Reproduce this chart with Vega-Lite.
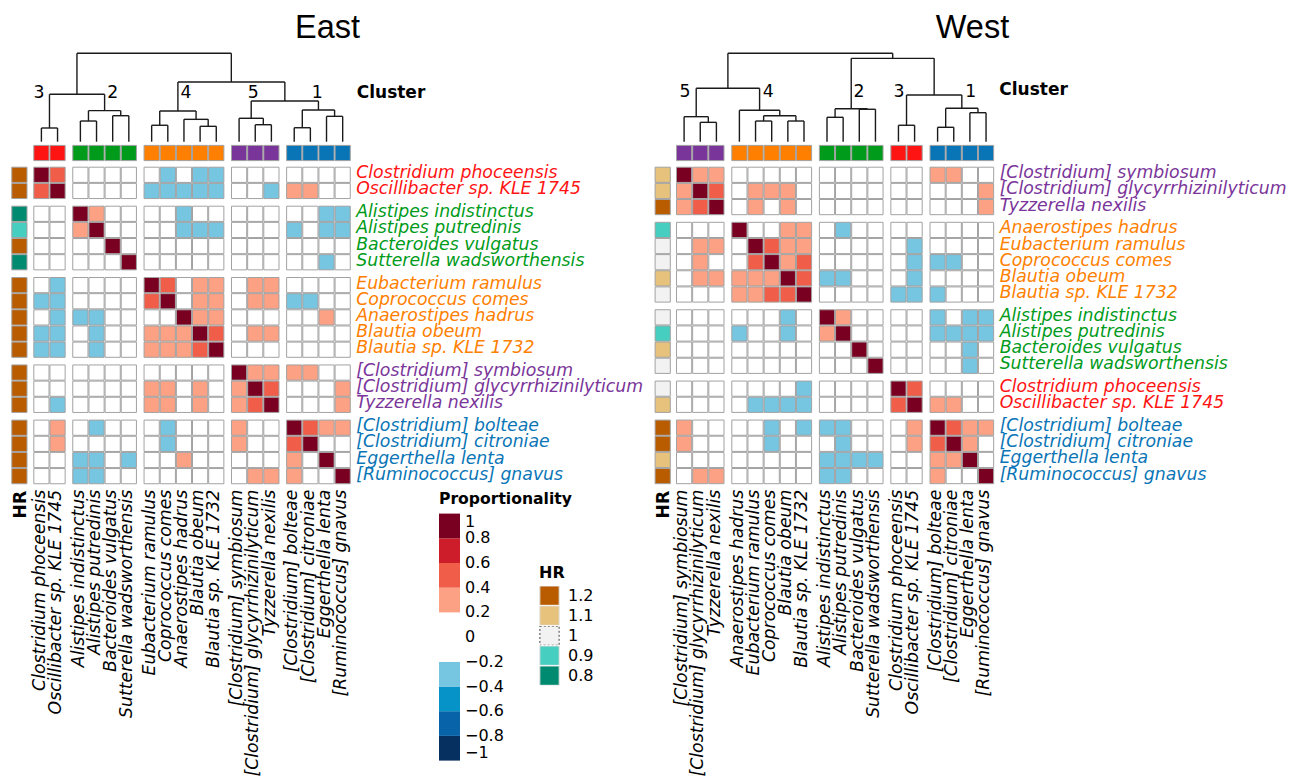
{
"$schema":"https://vega.github.io/schema/vega-lite/v6.json",
"width":1292,"height":779,"padding":0,"autosize":{"type":"none"},"background":"white",
"config":{"view":{"stroke":null},"font":"DejaVu Sans","legend":{"labelFont":"DejaVu Sans","titleFont":"DejaVu Sans"}},
"datasets":{
"sp":[
{"p":"E","i":0,"name":"Clostridium phoceensis","cl":3,"hr":1.2},
{"p":"E","i":1,"name":"Oscillibacter sp. KLE 1745","cl":3,"hr":1.2},
{"p":"E","i":2,"name":"Alistipes indistinctus","cl":2,"hr":0.8},
{"p":"E","i":3,"name":"Alistipes putredinis","cl":2,"hr":0.9},
{"p":"E","i":4,"name":"Bacteroides vulgatus","cl":2,"hr":1.2},
{"p":"E","i":5,"name":"Sutterella wadsworthensis","cl":2,"hr":0.8},
{"p":"E","i":6,"name":"Eubacterium ramulus","cl":4,"hr":1.2},
{"p":"E","i":7,"name":"Coprococcus comes","cl":4,"hr":1.2},
{"p":"E","i":8,"name":"Anaerostipes hadrus","cl":4,"hr":1.2},
{"p":"E","i":9,"name":"Blautia obeum","cl":4,"hr":1.2},
{"p":"E","i":10,"name":"Blautia sp. KLE 1732","cl":4,"hr":1.2},
{"p":"E","i":11,"name":"[Clostridium] symbiosum","cl":5,"hr":1.2},
{"p":"E","i":12,"name":"[Clostridium] glycyrrhizinilyticum","cl":5,"hr":1.2},
{"p":"E","i":13,"name":"Tyzzerella nexilis","cl":5,"hr":1.2},
{"p":"E","i":14,"name":"[Clostridium] bolteae","cl":1,"hr":1.2},
{"p":"E","i":15,"name":"[Clostridium] citroniae","cl":1,"hr":1.2},
{"p":"E","i":16,"name":"Eggerthella lenta","cl":1,"hr":1.2},
{"p":"E","i":17,"name":"[Ruminococcus] gnavus","cl":1,"hr":1.2},
{"p":"W","i":0,"name":"[Clostridium] symbiosum","cl":5,"hr":1.1},
{"p":"W","i":1,"name":"[Clostridium] glycyrrhizinilyticum","cl":5,"hr":1.1},
{"p":"W","i":2,"name":"Tyzzerella nexilis","cl":5,"hr":1.2},
{"p":"W","i":3,"name":"Anaerostipes hadrus","cl":4,"hr":0.9},
{"p":"W","i":4,"name":"Eubacterium ramulus","cl":4,"hr":1},
{"p":"W","i":5,"name":"Coprococcus comes","cl":4,"hr":1},
{"p":"W","i":6,"name":"Blautia obeum","cl":4,"hr":1.1},
{"p":"W","i":7,"name":"Blautia sp. KLE 1732","cl":4,"hr":1},
{"p":"W","i":8,"name":"Alistipes indistinctus","cl":2,"hr":1},
{"p":"W","i":9,"name":"Alistipes putredinis","cl":2,"hr":0.9},
{"p":"W","i":10,"name":"Bacteroides vulgatus","cl":2,"hr":1.1},
{"p":"W","i":11,"name":"Sutterella wadsworthensis","cl":2,"hr":1},
{"p":"W","i":12,"name":"Clostridium phoceensis","cl":3,"hr":1},
{"p":"W","i":13,"name":"Oscillibacter sp. KLE 1745","cl":3,"hr":1.1},
{"p":"W","i":14,"name":"[Clostridium] bolteae","cl":1,"hr":1.2},
{"p":"W","i":15,"name":"[Clostridium] citroniae","cl":1,"hr":1.2},
{"p":"W","i":16,"name":"Eggerthella lenta","cl":1,"hr":1.1},
{"p":"W","i":17,"name":"[Ruminococcus] gnavus","cl":1,"hr":1.2}
],
"cells":[
{"p":"E","r":0,"c":0,"v":1},{"p":"E","r":0,"c":1,"v":0.5},{"p":"E","r":0,"c":2,"v":0},{"p":"E","r":0,"c":3,"v":0},{"p":"E","r":0,"c":4,"v":0},{"p":"E","r":0,"c":5,"v":0},{"p":"E","r":0,"c":6,"v":0},{"p":"E","r":0,"c":7,"v":-0.3},{"p":"E","r":0,"c":8,"v":0},{"p":"E","r":0,"c":9,"v":-0.3},{"p":"E","r":0,"c":10,"v":-0.3},{"p":"E","r":0,"c":11,"v":0},{"p":"E","r":0,"c":12,"v":0},{"p":"E","r":0,"c":13,"v":0},{"p":"E","r":0,"c":14,"v":0},{"p":"E","r":0,"c":15,"v":0},{"p":"E","r":0,"c":16,"v":0},{"p":"E","r":0,"c":17,"v":0},
{"p":"E","r":1,"c":0,"v":0.5},{"p":"E","r":1,"c":1,"v":1},{"p":"E","r":1,"c":2,"v":0},{"p":"E","r":1,"c":3,"v":0},{"p":"E","r":1,"c":4,"v":0},{"p":"E","r":1,"c":5,"v":0},{"p":"E","r":1,"c":6,"v":-0.3},{"p":"E","r":1,"c":7,"v":-0.3},{"p":"E","r":1,"c":8,"v":-0.3},{"p":"E","r":1,"c":9,"v":-0.3},{"p":"E","r":1,"c":10,"v":-0.3},{"p":"E","r":1,"c":11,"v":0},{"p":"E","r":1,"c":12,"v":0},{"p":"E","r":1,"c":13,"v":-0.3},{"p":"E","r":1,"c":14,"v":0.3},{"p":"E","r":1,"c":15,"v":0.3},{"p":"E","r":1,"c":16,"v":0},{"p":"E","r":1,"c":17,"v":0},
{"p":"E","r":2,"c":0,"v":0},{"p":"E","r":2,"c":1,"v":0},{"p":"E","r":2,"c":2,"v":1},{"p":"E","r":2,"c":3,"v":0.3},{"p":"E","r":2,"c":4,"v":0},{"p":"E","r":2,"c":5,"v":0},{"p":"E","r":2,"c":6,"v":0},{"p":"E","r":2,"c":7,"v":0},{"p":"E","r":2,"c":8,"v":-0.3},{"p":"E","r":2,"c":9,"v":0},{"p":"E","r":2,"c":10,"v":0},{"p":"E","r":2,"c":11,"v":0},{"p":"E","r":2,"c":12,"v":0},{"p":"E","r":2,"c":13,"v":0},{"p":"E","r":2,"c":14,"v":0},{"p":"E","r":2,"c":15,"v":0},{"p":"E","r":2,"c":16,"v":-0.3},{"p":"E","r":2,"c":17,"v":-0.3},
{"p":"E","r":3,"c":0,"v":0},{"p":"E","r":3,"c":1,"v":0},{"p":"E","r":3,"c":2,"v":0.3},{"p":"E","r":3,"c":3,"v":1},{"p":"E","r":3,"c":4,"v":0},{"p":"E","r":3,"c":5,"v":0},{"p":"E","r":3,"c":6,"v":0},{"p":"E","r":3,"c":7,"v":0},{"p":"E","r":3,"c":8,"v":-0.3},{"p":"E","r":3,"c":9,"v":-0.3},{"p":"E","r":3,"c":10,"v":-0.3},{"p":"E","r":3,"c":11,"v":0},{"p":"E","r":3,"c":12,"v":0},{"p":"E","r":3,"c":13,"v":0},{"p":"E","r":3,"c":14,"v":-0.3},{"p":"E","r":3,"c":15,"v":0},{"p":"E","r":3,"c":16,"v":-0.3},{"p":"E","r":3,"c":17,"v":-0.3},
{"p":"E","r":4,"c":0,"v":0},{"p":"E","r":4,"c":1,"v":0},{"p":"E","r":4,"c":2,"v":0},{"p":"E","r":4,"c":3,"v":0},{"p":"E","r":4,"c":4,"v":1},{"p":"E","r":4,"c":5,"v":0},{"p":"E","r":4,"c":6,"v":0},{"p":"E","r":4,"c":7,"v":0},{"p":"E","r":4,"c":8,"v":0},{"p":"E","r":4,"c":9,"v":0},{"p":"E","r":4,"c":10,"v":0},{"p":"E","r":4,"c":11,"v":0},{"p":"E","r":4,"c":12,"v":0},{"p":"E","r":4,"c":13,"v":0},{"p":"E","r":4,"c":14,"v":0},{"p":"E","r":4,"c":15,"v":0},{"p":"E","r":4,"c":16,"v":0},{"p":"E","r":4,"c":17,"v":0},
{"p":"E","r":5,"c":0,"v":0},{"p":"E","r":5,"c":1,"v":0},{"p":"E","r":5,"c":2,"v":0},{"p":"E","r":5,"c":3,"v":0},{"p":"E","r":5,"c":4,"v":0},{"p":"E","r":5,"c":5,"v":1},{"p":"E","r":5,"c":6,"v":0},{"p":"E","r":5,"c":7,"v":0},{"p":"E","r":5,"c":8,"v":0},{"p":"E","r":5,"c":9,"v":0},{"p":"E","r":5,"c":10,"v":0},{"p":"E","r":5,"c":11,"v":0},{"p":"E","r":5,"c":12,"v":0},{"p":"E","r":5,"c":13,"v":0},{"p":"E","r":5,"c":14,"v":0},{"p":"E","r":5,"c":15,"v":0},{"p":"E","r":5,"c":16,"v":-0.3},{"p":"E","r":5,"c":17,"v":0},
{"p":"E","r":6,"c":0,"v":0},{"p":"E","r":6,"c":1,"v":-0.3},{"p":"E","r":6,"c":2,"v":0},{"p":"E","r":6,"c":3,"v":0},{"p":"E","r":6,"c":4,"v":0},{"p":"E","r":6,"c":5,"v":0},{"p":"E","r":6,"c":6,"v":1},{"p":"E","r":6,"c":7,"v":0.5},{"p":"E","r":6,"c":8,"v":0},{"p":"E","r":6,"c":9,"v":0.3},{"p":"E","r":6,"c":10,"v":0.3},{"p":"E","r":6,"c":11,"v":0},{"p":"E","r":6,"c":12,"v":0.3},{"p":"E","r":6,"c":13,"v":0.3},{"p":"E","r":6,"c":14,"v":0},{"p":"E","r":6,"c":15,"v":0},{"p":"E","r":6,"c":16,"v":0},{"p":"E","r":6,"c":17,"v":0},
{"p":"E","r":7,"c":0,"v":-0.3},{"p":"E","r":7,"c":1,"v":-0.3},{"p":"E","r":7,"c":2,"v":0},{"p":"E","r":7,"c":3,"v":0},{"p":"E","r":7,"c":4,"v":0},{"p":"E","r":7,"c":5,"v":0},{"p":"E","r":7,"c":6,"v":0.5},{"p":"E","r":7,"c":7,"v":1},{"p":"E","r":7,"c":8,"v":0},{"p":"E","r":7,"c":9,"v":0.3},{"p":"E","r":7,"c":10,"v":0.3},{"p":"E","r":7,"c":11,"v":0},{"p":"E","r":7,"c":12,"v":0.3},{"p":"E","r":7,"c":13,"v":0.3},{"p":"E","r":7,"c":14,"v":-0.3},{"p":"E","r":7,"c":15,"v":-0.3},{"p":"E","r":7,"c":16,"v":0},{"p":"E","r":7,"c":17,"v":0},
{"p":"E","r":8,"c":0,"v":0},{"p":"E","r":8,"c":1,"v":-0.3},{"p":"E","r":8,"c":2,"v":-0.3},{"p":"E","r":8,"c":3,"v":-0.3},{"p":"E","r":8,"c":4,"v":0},{"p":"E","r":8,"c":5,"v":0},{"p":"E","r":8,"c":6,"v":0},{"p":"E","r":8,"c":7,"v":0},{"p":"E","r":8,"c":8,"v":1},{"p":"E","r":8,"c":9,"v":0.3},{"p":"E","r":8,"c":10,"v":0.3},{"p":"E","r":8,"c":11,"v":0},{"p":"E","r":8,"c":12,"v":0},{"p":"E","r":8,"c":13,"v":0},{"p":"E","r":8,"c":14,"v":0},{"p":"E","r":8,"c":15,"v":0},{"p":"E","r":8,"c":16,"v":0.3},{"p":"E","r":8,"c":17,"v":0},
{"p":"E","r":9,"c":0,"v":-0.3},{"p":"E","r":9,"c":1,"v":-0.3},{"p":"E","r":9,"c":2,"v":0},{"p":"E","r":9,"c":3,"v":-0.3},{"p":"E","r":9,"c":4,"v":0},{"p":"E","r":9,"c":5,"v":0},{"p":"E","r":9,"c":6,"v":0.3},{"p":"E","r":9,"c":7,"v":0.3},{"p":"E","r":9,"c":8,"v":0.3},{"p":"E","r":9,"c":9,"v":1},{"p":"E","r":9,"c":10,"v":0.5},{"p":"E","r":9,"c":11,"v":0},{"p":"E","r":9,"c":12,"v":0.3},{"p":"E","r":9,"c":13,"v":0.3},{"p":"E","r":9,"c":14,"v":0},{"p":"E","r":9,"c":15,"v":0},{"p":"E","r":9,"c":16,"v":0},{"p":"E","r":9,"c":17,"v":0},
{"p":"E","r":10,"c":0,"v":-0.3},{"p":"E","r":10,"c":1,"v":-0.3},{"p":"E","r":10,"c":2,"v":0},{"p":"E","r":10,"c":3,"v":-0.3},{"p":"E","r":10,"c":4,"v":0},{"p":"E","r":10,"c":5,"v":0},{"p":"E","r":10,"c":6,"v":0.3},{"p":"E","r":10,"c":7,"v":0.3},{"p":"E","r":10,"c":8,"v":0.3},{"p":"E","r":10,"c":9,"v":0.5},{"p":"E","r":10,"c":10,"v":1},{"p":"E","r":10,"c":11,"v":0},{"p":"E","r":10,"c":12,"v":0},{"p":"E","r":10,"c":13,"v":0},{"p":"E","r":10,"c":14,"v":0},{"p":"E","r":10,"c":15,"v":0},{"p":"E","r":10,"c":16,"v":0},{"p":"E","r":10,"c":17,"v":0},
{"p":"E","r":11,"c":0,"v":0},{"p":"E","r":11,"c":1,"v":0},{"p":"E","r":11,"c":2,"v":0},{"p":"E","r":11,"c":3,"v":0},{"p":"E","r":11,"c":4,"v":0},{"p":"E","r":11,"c":5,"v":0},{"p":"E","r":11,"c":6,"v":0},{"p":"E","r":11,"c":7,"v":0},{"p":"E","r":11,"c":8,"v":0},{"p":"E","r":11,"c":9,"v":0},{"p":"E","r":11,"c":10,"v":0},{"p":"E","r":11,"c":11,"v":1},{"p":"E","r":11,"c":12,"v":0.3},{"p":"E","r":11,"c":13,"v":0.3},{"p":"E","r":11,"c":14,"v":0.3},{"p":"E","r":11,"c":15,"v":0.3},{"p":"E","r":11,"c":16,"v":0},{"p":"E","r":11,"c":17,"v":0},
{"p":"E","r":12,"c":0,"v":0},{"p":"E","r":12,"c":1,"v":0},{"p":"E","r":12,"c":2,"v":0},{"p":"E","r":12,"c":3,"v":0},{"p":"E","r":12,"c":4,"v":0},{"p":"E","r":12,"c":5,"v":0},{"p":"E","r":12,"c":6,"v":0.3},{"p":"E","r":12,"c":7,"v":0.3},{"p":"E","r":12,"c":8,"v":0},{"p":"E","r":12,"c":9,"v":0.3},{"p":"E","r":12,"c":10,"v":0},{"p":"E","r":12,"c":11,"v":0.3},{"p":"E","r":12,"c":12,"v":1},{"p":"E","r":12,"c":13,"v":0.5},{"p":"E","r":12,"c":14,"v":0},{"p":"E","r":12,"c":15,"v":0},{"p":"E","r":12,"c":16,"v":0},{"p":"E","r":12,"c":17,"v":0.3},
{"p":"E","r":13,"c":0,"v":0},{"p":"E","r":13,"c":1,"v":-0.3},{"p":"E","r":13,"c":2,"v":0},{"p":"E","r":13,"c":3,"v":0},{"p":"E","r":13,"c":4,"v":0},{"p":"E","r":13,"c":5,"v":0},{"p":"E","r":13,"c":6,"v":0.3},{"p":"E","r":13,"c":7,"v":0.3},{"p":"E","r":13,"c":8,"v":0},{"p":"E","r":13,"c":9,"v":0.3},{"p":"E","r":13,"c":10,"v":0},{"p":"E","r":13,"c":11,"v":0.3},{"p":"E","r":13,"c":12,"v":0.5},{"p":"E","r":13,"c":13,"v":1},{"p":"E","r":13,"c":14,"v":0},{"p":"E","r":13,"c":15,"v":0},{"p":"E","r":13,"c":16,"v":0},{"p":"E","r":13,"c":17,"v":0.3},
{"p":"E","r":14,"c":0,"v":0},{"p":"E","r":14,"c":1,"v":0.3},{"p":"E","r":14,"c":2,"v":0},{"p":"E","r":14,"c":3,"v":-0.3},{"p":"E","r":14,"c":4,"v":0},{"p":"E","r":14,"c":5,"v":0},{"p":"E","r":14,"c":6,"v":0},{"p":"E","r":14,"c":7,"v":-0.3},{"p":"E","r":14,"c":8,"v":0},{"p":"E","r":14,"c":9,"v":0},{"p":"E","r":14,"c":10,"v":0},{"p":"E","r":14,"c":11,"v":0.3},{"p":"E","r":14,"c":12,"v":0},{"p":"E","r":14,"c":13,"v":0},{"p":"E","r":14,"c":14,"v":1},{"p":"E","r":14,"c":15,"v":0.5},{"p":"E","r":14,"c":16,"v":0.3},{"p":"E","r":14,"c":17,"v":0.3},
{"p":"E","r":15,"c":0,"v":0},{"p":"E","r":15,"c":1,"v":0.3},{"p":"E","r":15,"c":2,"v":0},{"p":"E","r":15,"c":3,"v":0},{"p":"E","r":15,"c":4,"v":0},{"p":"E","r":15,"c":5,"v":0},{"p":"E","r":15,"c":6,"v":0},{"p":"E","r":15,"c":7,"v":-0.3},{"p":"E","r":15,"c":8,"v":0},{"p":"E","r":15,"c":9,"v":0},{"p":"E","r":15,"c":10,"v":0},{"p":"E","r":15,"c":11,"v":0.3},{"p":"E","r":15,"c":12,"v":0},{"p":"E","r":15,"c":13,"v":0},{"p":"E","r":15,"c":14,"v":0.5},{"p":"E","r":15,"c":15,"v":1},{"p":"E","r":15,"c":16,"v":0},{"p":"E","r":15,"c":17,"v":0},
{"p":"E","r":16,"c":0,"v":0},{"p":"E","r":16,"c":1,"v":0},{"p":"E","r":16,"c":2,"v":-0.3},{"p":"E","r":16,"c":3,"v":-0.3},{"p":"E","r":16,"c":4,"v":0},{"p":"E","r":16,"c":5,"v":-0.3},{"p":"E","r":16,"c":6,"v":0},{"p":"E","r":16,"c":7,"v":0},{"p":"E","r":16,"c":8,"v":0.3},{"p":"E","r":16,"c":9,"v":0},{"p":"E","r":16,"c":10,"v":0},{"p":"E","r":16,"c":11,"v":0},{"p":"E","r":16,"c":12,"v":0},{"p":"E","r":16,"c":13,"v":0},{"p":"E","r":16,"c":14,"v":0.3},{"p":"E","r":16,"c":15,"v":0},{"p":"E","r":16,"c":16,"v":1},{"p":"E","r":16,"c":17,"v":0},
{"p":"E","r":17,"c":0,"v":0},{"p":"E","r":17,"c":1,"v":0},{"p":"E","r":17,"c":2,"v":-0.3},{"p":"E","r":17,"c":3,"v":-0.3},{"p":"E","r":17,"c":4,"v":0},{"p":"E","r":17,"c":5,"v":0},{"p":"E","r":17,"c":6,"v":0},{"p":"E","r":17,"c":7,"v":0},{"p":"E","r":17,"c":8,"v":0},{"p":"E","r":17,"c":9,"v":0},{"p":"E","r":17,"c":10,"v":0},{"p":"E","r":17,"c":11,"v":0},{"p":"E","r":17,"c":12,"v":0.3},{"p":"E","r":17,"c":13,"v":0.3},{"p":"E","r":17,"c":14,"v":0.3},{"p":"E","r":17,"c":15,"v":0},{"p":"E","r":17,"c":16,"v":0},{"p":"E","r":17,"c":17,"v":1},
{"p":"W","r":0,"c":0,"v":1},{"p":"W","r":0,"c":1,"v":0.3},{"p":"W","r":0,"c":2,"v":0.3},{"p":"W","r":0,"c":3,"v":0},{"p":"W","r":0,"c":4,"v":0},{"p":"W","r":0,"c":5,"v":0},{"p":"W","r":0,"c":6,"v":0},{"p":"W","r":0,"c":7,"v":0},{"p":"W","r":0,"c":8,"v":0},{"p":"W","r":0,"c":9,"v":0},{"p":"W","r":0,"c":10,"v":0},{"p":"W","r":0,"c":11,"v":0},{"p":"W","r":0,"c":12,"v":0},{"p":"W","r":0,"c":13,"v":0},{"p":"W","r":0,"c":14,"v":0.3},{"p":"W","r":0,"c":15,"v":0.3},{"p":"W","r":0,"c":16,"v":0},{"p":"W","r":0,"c":17,"v":0},
{"p":"W","r":1,"c":0,"v":0.3},{"p":"W","r":1,"c":1,"v":1},{"p":"W","r":1,"c":2,"v":0.5},{"p":"W","r":1,"c":3,"v":0},{"p":"W","r":1,"c":4,"v":0.3},{"p":"W","r":1,"c":5,"v":0.3},{"p":"W","r":1,"c":6,"v":0.3},{"p":"W","r":1,"c":7,"v":0},{"p":"W","r":1,"c":8,"v":0},{"p":"W","r":1,"c":9,"v":0},{"p":"W","r":1,"c":10,"v":0},{"p":"W","r":1,"c":11,"v":0},{"p":"W","r":1,"c":12,"v":0},{"p":"W","r":1,"c":13,"v":0},{"p":"W","r":1,"c":14,"v":0},{"p":"W","r":1,"c":15,"v":0},{"p":"W","r":1,"c":16,"v":0},{"p":"W","r":1,"c":17,"v":0.3},
{"p":"W","r":2,"c":0,"v":0.3},{"p":"W","r":2,"c":1,"v":0.5},{"p":"W","r":2,"c":2,"v":1},{"p":"W","r":2,"c":3,"v":0},{"p":"W","r":2,"c":4,"v":0.3},{"p":"W","r":2,"c":5,"v":0},{"p":"W","r":2,"c":6,"v":0.3},{"p":"W","r":2,"c":7,"v":0},{"p":"W","r":2,"c":8,"v":0},{"p":"W","r":2,"c":9,"v":0},{"p":"W","r":2,"c":10,"v":0},{"p":"W","r":2,"c":11,"v":0},{"p":"W","r":2,"c":12,"v":0},{"p":"W","r":2,"c":13,"v":0},{"p":"W","r":2,"c":14,"v":0},{"p":"W","r":2,"c":15,"v":0},{"p":"W","r":2,"c":16,"v":0},{"p":"W","r":2,"c":17,"v":0.3},
{"p":"W","r":3,"c":0,"v":0},{"p":"W","r":3,"c":1,"v":0},{"p":"W","r":3,"c":2,"v":0},{"p":"W","r":3,"c":3,"v":1},{"p":"W","r":3,"c":4,"v":0},{"p":"W","r":3,"c":5,"v":0},{"p":"W","r":3,"c":6,"v":0.3},{"p":"W","r":3,"c":7,"v":0.3},{"p":"W","r":3,"c":8,"v":0},{"p":"W","r":3,"c":9,"v":-0.3},{"p":"W","r":3,"c":10,"v":0},{"p":"W","r":3,"c":11,"v":0},{"p":"W","r":3,"c":12,"v":0},{"p":"W","r":3,"c":13,"v":0},{"p":"W","r":3,"c":14,"v":0},{"p":"W","r":3,"c":15,"v":0},{"p":"W","r":3,"c":16,"v":0},{"p":"W","r":3,"c":17,"v":0},
{"p":"W","r":4,"c":0,"v":0},{"p":"W","r":4,"c":1,"v":0.3},{"p":"W","r":4,"c":2,"v":0.3},{"p":"W","r":4,"c":3,"v":0},{"p":"W","r":4,"c":4,"v":1},{"p":"W","r":4,"c":5,"v":0.5},{"p":"W","r":4,"c":6,"v":0.3},{"p":"W","r":4,"c":7,"v":0.3},{"p":"W","r":4,"c":8,"v":0},{"p":"W","r":4,"c":9,"v":0},{"p":"W","r":4,"c":10,"v":0},{"p":"W","r":4,"c":11,"v":0},{"p":"W","r":4,"c":12,"v":0},{"p":"W","r":4,"c":13,"v":-0.3},{"p":"W","r":4,"c":14,"v":0},{"p":"W","r":4,"c":15,"v":0},{"p":"W","r":4,"c":16,"v":0},{"p":"W","r":4,"c":17,"v":0},
{"p":"W","r":5,"c":0,"v":0},{"p":"W","r":5,"c":1,"v":0.3},{"p":"W","r":5,"c":2,"v":0},{"p":"W","r":5,"c":3,"v":0},{"p":"W","r":5,"c":4,"v":0.5},{"p":"W","r":5,"c":5,"v":1},{"p":"W","r":5,"c":6,"v":0.3},{"p":"W","r":5,"c":7,"v":0.5},{"p":"W","r":5,"c":8,"v":0},{"p":"W","r":5,"c":9,"v":0},{"p":"W","r":5,"c":10,"v":0},{"p":"W","r":5,"c":11,"v":0},{"p":"W","r":5,"c":12,"v":0},{"p":"W","r":5,"c":13,"v":-0.3},{"p":"W","r":5,"c":14,"v":-0.3},{"p":"W","r":5,"c":15,"v":-0.3},{"p":"W","r":5,"c":16,"v":0},{"p":"W","r":5,"c":17,"v":0},
{"p":"W","r":6,"c":0,"v":0},{"p":"W","r":6,"c":1,"v":0.3},{"p":"W","r":6,"c":2,"v":0.3},{"p":"W","r":6,"c":3,"v":0.3},{"p":"W","r":6,"c":4,"v":0.3},{"p":"W","r":6,"c":5,"v":0.3},{"p":"W","r":6,"c":6,"v":1},{"p":"W","r":6,"c":7,"v":0.5},{"p":"W","r":6,"c":8,"v":-0.3},{"p":"W","r":6,"c":9,"v":-0.3},{"p":"W","r":6,"c":10,"v":0},{"p":"W","r":6,"c":11,"v":0},{"p":"W","r":6,"c":12,"v":0},{"p":"W","r":6,"c":13,"v":-0.3},{"p":"W","r":6,"c":14,"v":0},{"p":"W","r":6,"c":15,"v":0},{"p":"W","r":6,"c":16,"v":0},{"p":"W","r":6,"c":17,"v":0},
{"p":"W","r":7,"c":0,"v":0},{"p":"W","r":7,"c":1,"v":0},{"p":"W","r":7,"c":2,"v":0},{"p":"W","r":7,"c":3,"v":0.3},{"p":"W","r":7,"c":4,"v":0.3},{"p":"W","r":7,"c":5,"v":0.5},{"p":"W","r":7,"c":6,"v":0.5},{"p":"W","r":7,"c":7,"v":1},{"p":"W","r":7,"c":8,"v":0},{"p":"W","r":7,"c":9,"v":0},{"p":"W","r":7,"c":10,"v":0},{"p":"W","r":7,"c":11,"v":0},{"p":"W","r":7,"c":12,"v":-0.3},{"p":"W","r":7,"c":13,"v":-0.3},{"p":"W","r":7,"c":14,"v":-0.3},{"p":"W","r":7,"c":15,"v":0},{"p":"W","r":7,"c":16,"v":0},{"p":"W","r":7,"c":17,"v":0},
{"p":"W","r":8,"c":0,"v":0},{"p":"W","r":8,"c":1,"v":0},{"p":"W","r":8,"c":2,"v":0},{"p":"W","r":8,"c":3,"v":0},{"p":"W","r":8,"c":4,"v":0},{"p":"W","r":8,"c":5,"v":0},{"p":"W","r":8,"c":6,"v":-0.3},{"p":"W","r":8,"c":7,"v":0},{"p":"W","r":8,"c":8,"v":1},{"p":"W","r":8,"c":9,"v":0.3},{"p":"W","r":8,"c":10,"v":0},{"p":"W","r":8,"c":11,"v":0},{"p":"W","r":8,"c":12,"v":0},{"p":"W","r":8,"c":13,"v":0},{"p":"W","r":8,"c":14,"v":-0.3},{"p":"W","r":8,"c":15,"v":0},{"p":"W","r":8,"c":16,"v":-0.3},{"p":"W","r":8,"c":17,"v":-0.3},
{"p":"W","r":9,"c":0,"v":0},{"p":"W","r":9,"c":1,"v":0},{"p":"W","r":9,"c":2,"v":0},{"p":"W","r":9,"c":3,"v":-0.3},{"p":"W","r":9,"c":4,"v":0},{"p":"W","r":9,"c":5,"v":0},{"p":"W","r":9,"c":6,"v":-0.3},{"p":"W","r":9,"c":7,"v":0},{"p":"W","r":9,"c":8,"v":0.3},{"p":"W","r":9,"c":9,"v":1},{"p":"W","r":9,"c":10,"v":0},{"p":"W","r":9,"c":11,"v":0},{"p":"W","r":9,"c":12,"v":0},{"p":"W","r":9,"c":13,"v":0},{"p":"W","r":9,"c":14,"v":-0.3},{"p":"W","r":9,"c":15,"v":-0.3},{"p":"W","r":9,"c":16,"v":-0.3},{"p":"W","r":9,"c":17,"v":-0.3},
{"p":"W","r":10,"c":0,"v":0},{"p":"W","r":10,"c":1,"v":0},{"p":"W","r":10,"c":2,"v":0},{"p":"W","r":10,"c":3,"v":0},{"p":"W","r":10,"c":4,"v":0},{"p":"W","r":10,"c":5,"v":0},{"p":"W","r":10,"c":6,"v":0},{"p":"W","r":10,"c":7,"v":0},{"p":"W","r":10,"c":8,"v":0},{"p":"W","r":10,"c":9,"v":0},{"p":"W","r":10,"c":10,"v":1},{"p":"W","r":10,"c":11,"v":0},{"p":"W","r":10,"c":12,"v":0},{"p":"W","r":10,"c":13,"v":0},{"p":"W","r":10,"c":14,"v":0},{"p":"W","r":10,"c":15,"v":0},{"p":"W","r":10,"c":16,"v":-0.3},{"p":"W","r":10,"c":17,"v":0},
{"p":"W","r":11,"c":0,"v":0},{"p":"W","r":11,"c":1,"v":0},{"p":"W","r":11,"c":2,"v":0},{"p":"W","r":11,"c":3,"v":0},{"p":"W","r":11,"c":4,"v":0},{"p":"W","r":11,"c":5,"v":0},{"p":"W","r":11,"c":6,"v":0},{"p":"W","r":11,"c":7,"v":0},{"p":"W","r":11,"c":8,"v":0},{"p":"W","r":11,"c":9,"v":0},{"p":"W","r":11,"c":10,"v":0},{"p":"W","r":11,"c":11,"v":1},{"p":"W","r":11,"c":12,"v":0},{"p":"W","r":11,"c":13,"v":0},{"p":"W","r":11,"c":14,"v":0},{"p":"W","r":11,"c":15,"v":0},{"p":"W","r":11,"c":16,"v":-0.3},{"p":"W","r":11,"c":17,"v":0},
{"p":"W","r":12,"c":0,"v":0},{"p":"W","r":12,"c":1,"v":0},{"p":"W","r":12,"c":2,"v":0},{"p":"W","r":12,"c":3,"v":0},{"p":"W","r":12,"c":4,"v":0},{"p":"W","r":12,"c":5,"v":0},{"p":"W","r":12,"c":6,"v":0},{"p":"W","r":12,"c":7,"v":-0.3},{"p":"W","r":12,"c":8,"v":0},{"p":"W","r":12,"c":9,"v":0},{"p":"W","r":12,"c":10,"v":0},{"p":"W","r":12,"c":11,"v":0},{"p":"W","r":12,"c":12,"v":1},{"p":"W","r":12,"c":13,"v":0.5},{"p":"W","r":12,"c":14,"v":0},{"p":"W","r":12,"c":15,"v":0},{"p":"W","r":12,"c":16,"v":0},{"p":"W","r":12,"c":17,"v":0},
{"p":"W","r":13,"c":0,"v":0},{"p":"W","r":13,"c":1,"v":0},{"p":"W","r":13,"c":2,"v":0},{"p":"W","r":13,"c":3,"v":0},{"p":"W","r":13,"c":4,"v":-0.3},{"p":"W","r":13,"c":5,"v":-0.3},{"p":"W","r":13,"c":6,"v":-0.3},{"p":"W","r":13,"c":7,"v":-0.3},{"p":"W","r":13,"c":8,"v":0},{"p":"W","r":13,"c":9,"v":0},{"p":"W","r":13,"c":10,"v":0},{"p":"W","r":13,"c":11,"v":0},{"p":"W","r":13,"c":12,"v":0.5},{"p":"W","r":13,"c":13,"v":1},{"p":"W","r":13,"c":14,"v":0.3},{"p":"W","r":13,"c":15,"v":0.3},{"p":"W","r":13,"c":16,"v":0},{"p":"W","r":13,"c":17,"v":0},
{"p":"W","r":14,"c":0,"v":0.3},{"p":"W","r":14,"c":1,"v":0},{"p":"W","r":14,"c":2,"v":0},{"p":"W","r":14,"c":3,"v":0},{"p":"W","r":14,"c":4,"v":0},{"p":"W","r":14,"c":5,"v":-0.3},{"p":"W","r":14,"c":6,"v":0},{"p":"W","r":14,"c":7,"v":-0.3},{"p":"W","r":14,"c":8,"v":-0.3},{"p":"W","r":14,"c":9,"v":-0.3},{"p":"W","r":14,"c":10,"v":0},{"p":"W","r":14,"c":11,"v":0},{"p":"W","r":14,"c":12,"v":0},{"p":"W","r":14,"c":13,"v":0.3},{"p":"W","r":14,"c":14,"v":1},{"p":"W","r":14,"c":15,"v":0.5},{"p":"W","r":14,"c":16,"v":0.3},{"p":"W","r":14,"c":17,"v":0.3},
{"p":"W","r":15,"c":0,"v":0.3},{"p":"W","r":15,"c":1,"v":0},{"p":"W","r":15,"c":2,"v":0},{"p":"W","r":15,"c":3,"v":0},{"p":"W","r":15,"c":4,"v":0},{"p":"W","r":15,"c":5,"v":-0.3},{"p":"W","r":15,"c":6,"v":0},{"p":"W","r":15,"c":7,"v":0},{"p":"W","r":15,"c":8,"v":0},{"p":"W","r":15,"c":9,"v":-0.3},{"p":"W","r":15,"c":10,"v":0},{"p":"W","r":15,"c":11,"v":0},{"p":"W","r":15,"c":12,"v":0},{"p":"W","r":15,"c":13,"v":0.3},{"p":"W","r":15,"c":14,"v":0.5},{"p":"W","r":15,"c":15,"v":1},{"p":"W","r":15,"c":16,"v":0.3},{"p":"W","r":15,"c":17,"v":0},
{"p":"W","r":16,"c":0,"v":0},{"p":"W","r":16,"c":1,"v":0},{"p":"W","r":16,"c":2,"v":0},{"p":"W","r":16,"c":3,"v":0},{"p":"W","r":16,"c":4,"v":0},{"p":"W","r":16,"c":5,"v":0},{"p":"W","r":16,"c":6,"v":0},{"p":"W","r":16,"c":7,"v":0},{"p":"W","r":16,"c":8,"v":-0.3},{"p":"W","r":16,"c":9,"v":-0.3},{"p":"W","r":16,"c":10,"v":-0.3},{"p":"W","r":16,"c":11,"v":-0.3},{"p":"W","r":16,"c":12,"v":0},{"p":"W","r":16,"c":13,"v":0},{"p":"W","r":16,"c":14,"v":0.3},{"p":"W","r":16,"c":15,"v":0.3},{"p":"W","r":16,"c":16,"v":1},{"p":"W","r":16,"c":17,"v":0},
{"p":"W","r":17,"c":0,"v":0},{"p":"W","r":17,"c":1,"v":0.3},{"p":"W","r":17,"c":2,"v":0.3},{"p":"W","r":17,"c":3,"v":0},{"p":"W","r":17,"c":4,"v":0},{"p":"W","r":17,"c":5,"v":0},{"p":"W","r":17,"c":6,"v":0},{"p":"W","r":17,"c":7,"v":0},{"p":"W","r":17,"c":8,"v":-0.3},{"p":"W","r":17,"c":9,"v":-0.3},{"p":"W","r":17,"c":10,"v":0},{"p":"W","r":17,"c":11,"v":0},{"p":"W","r":17,"c":12,"v":0},{"p":"W","r":17,"c":13,"v":0},{"p":"W","r":17,"c":14,"v":0.3},{"p":"W","r":17,"c":15,"v":0},{"p":"W","r":17,"c":16,"v":0},{"p":"W","r":17,"c":17,"v":1}
],
"dend":[
{"p":"E","x1":0,"h1":0,"x2":0,"h2":0.155},{"p":"E","x1":1,"h1":0,"x2":1,"h2":0.155},{"p":"E","x1":0,"h1":0.155,"x2":1,"h2":0.155},{"p":"E","x1":0.5,"h1":0.155,"x2":0.5,"h2":0.536},
{"p":"E","x1":2,"h1":0,"x2":2,"h2":0.234},{"p":"E","x1":3,"h1":0,"x2":3,"h2":0.234},{"p":"E","x1":2,"h1":0.234,"x2":3,"h2":0.234},{"p":"E","x1":2.5,"h1":0.234,"x2":2.5,"h2":0.351},
{"p":"E","x1":4,"h1":0,"x2":4,"h2":0.294},{"p":"E","x1":5,"h1":0,"x2":5,"h2":0.294},{"p":"E","x1":4,"h1":0.294,"x2":5,"h2":0.294},{"p":"E","x1":4.5,"h1":0.294,"x2":4.5,"h2":0.351},
{"p":"E","x1":2.5,"h1":0.351,"x2":4.5,"h2":0.351},{"p":"E","x1":3.5,"h1":0.351,"x2":3.5,"h2":0.536},
{"p":"E","x1":0.5,"h1":0.536,"x2":3.5,"h2":0.536},{"p":"E","x1":1.85,"h1":0.536,"x2":1.85,"h2":1},
{"p":"E","x1":6,"h1":0,"x2":6,"h2":0.186},{"p":"E","x1":7,"h1":0,"x2":7,"h2":0.186},{"p":"E","x1":6,"h1":0.186,"x2":7,"h2":0.186},{"p":"E","x1":6.5,"h1":0.186,"x2":6.5,"h2":0.347},
{"p":"E","x1":9,"h1":0,"x2":9,"h2":0.174},{"p":"E","x1":10,"h1":0,"x2":10,"h2":0.174},{"p":"E","x1":9,"h1":0.174,"x2":10,"h2":0.174},{"p":"E","x1":9.5,"h1":0.174,"x2":9.5,"h2":0.253},
{"p":"E","x1":8,"h1":0,"x2":8,"h2":0.253},{"p":"E","x1":8,"h1":0.253,"x2":9.5,"h2":0.253},{"p":"E","x1":8.75,"h1":0.253,"x2":8.75,"h2":0.347},
{"p":"E","x1":6.5,"h1":0.347,"x2":8.75,"h2":0.347},{"p":"E","x1":7.625,"h1":0.347,"x2":7.625,"h2":0.675},
{"p":"E","x1":12,"h1":0,"x2":12,"h2":0.192},{"p":"E","x1":13,"h1":0,"x2":13,"h2":0.192},{"p":"E","x1":12,"h1":0.192,"x2":13,"h2":0.192},{"p":"E","x1":12.5,"h1":0.192,"x2":12.5,"h2":0.265},
{"p":"E","x1":11,"h1":0,"x2":11,"h2":0.265},{"p":"E","x1":11,"h1":0.265,"x2":12.5,"h2":0.265},{"p":"E","x1":11.75,"h1":0.265,"x2":11.75,"h2":0.46},
{"p":"E","x1":14,"h1":0,"x2":14,"h2":0.158},{"p":"E","x1":15,"h1":0,"x2":15,"h2":0.158},{"p":"E","x1":14,"h1":0.158,"x2":15,"h2":0.158},{"p":"E","x1":14.5,"h1":0.158,"x2":14.5,"h2":0.359},
{"p":"E","x1":16,"h1":0,"x2":16,"h2":0.287},{"p":"E","x1":17,"h1":0,"x2":17,"h2":0.287},{"p":"E","x1":16,"h1":0.287,"x2":17,"h2":0.287},{"p":"E","x1":16.5,"h1":0.287,"x2":16.5,"h2":0.359},
{"p":"E","x1":14.5,"h1":0.359,"x2":16.5,"h2":0.359},{"p":"E","x1":15.5,"h1":0.359,"x2":15.5,"h2":0.46},
{"p":"E","x1":11.75,"h1":0.46,"x2":15.5,"h2":0.46},{"p":"E","x1":13.59,"h1":0.46,"x2":13.59,"h2":0.675},
{"p":"E","x1":7.625,"h1":0.675,"x2":13.59,"h2":0.675},{"p":"E","x1":10.66,"h1":0.675,"x2":10.66,"h2":1},
{"p":"E","x1":1.85,"h1":1,"x2":10.66,"h2":1},
{"p":"W","x1":1,"h1":0,"x2":1,"h2":0.219},{"p":"W","x1":2,"h1":0,"x2":2,"h2":0.219},{"p":"W","x1":1,"h1":0.219,"x2":2,"h2":0.219},{"p":"W","x1":1.5,"h1":0.219,"x2":1.5,"h2":0.283},
{"p":"W","x1":0,"h1":0,"x2":0,"h2":0.283},{"p":"W","x1":0,"h1":0.283,"x2":1.5,"h2":0.283},{"p":"W","x1":0.75,"h1":0.283,"x2":0.75,"h2":0.604},
{"p":"W","x1":4,"h1":0,"x2":4,"h2":0.234},{"p":"W","x1":5,"h1":0,"x2":5,"h2":0.234},{"p":"W","x1":4,"h1":0.234,"x2":5,"h2":0.234},{"p":"W","x1":4.5,"h1":0.234,"x2":4.5,"h2":0.294},
{"p":"W","x1":6,"h1":0,"x2":6,"h2":0.234},{"p":"W","x1":7,"h1":0,"x2":7,"h2":0.234},{"p":"W","x1":6,"h1":0.234,"x2":7,"h2":0.234},{"p":"W","x1":6.5,"h1":0.234,"x2":6.5,"h2":0.294},
{"p":"W","x1":4.5,"h1":0.294,"x2":6.5,"h2":0.294},{"p":"W","x1":5.5,"h1":0.294,"x2":5.5,"h2":0.355},
{"p":"W","x1":3,"h1":0,"x2":3,"h2":0.355},{"p":"W","x1":3,"h1":0.355,"x2":5.5,"h2":0.355},{"p":"W","x1":4.25,"h1":0.355,"x2":4.25,"h2":0.604},
{"p":"W","x1":0.75,"h1":0.604,"x2":4.25,"h2":0.604},{"p":"W","x1":2.5,"h1":0.604,"x2":2.5,"h2":1},
{"p":"W","x1":8,"h1":0,"x2":8,"h2":0.276},{"p":"W","x1":9,"h1":0,"x2":9,"h2":0.276},{"p":"W","x1":8,"h1":0.276,"x2":9,"h2":0.276},{"p":"W","x1":8.5,"h1":0.276,"x2":8.5,"h2":0.373},
{"p":"W","x1":10,"h1":0,"x2":10,"h2":0.367},{"p":"W","x1":11,"h1":0,"x2":11,"h2":0.367},{"p":"W","x1":10,"h1":0.367,"x2":11,"h2":0.367},{"p":"W","x1":10.5,"h1":0.367,"x2":10.5,"h2":0.373},
{"p":"W","x1":8.5,"h1":0.373,"x2":10.5,"h2":0.373},{"p":"W","x1":9.5,"h1":0.373,"x2":9.5,"h2":0.943},
{"p":"W","x1":12,"h1":0,"x2":12,"h2":0.186},{"p":"W","x1":13,"h1":0,"x2":13,"h2":0.186},{"p":"W","x1":12,"h1":0.186,"x2":13,"h2":0.186},{"p":"W","x1":12.5,"h1":0.186,"x2":12.5,"h2":0.528},
{"p":"W","x1":14,"h1":0,"x2":14,"h2":0.163},{"p":"W","x1":15,"h1":0,"x2":15,"h2":0.163},{"p":"W","x1":14,"h1":0.163,"x2":15,"h2":0.163},{"p":"W","x1":14.5,"h1":0.163,"x2":14.5,"h2":0.378},
{"p":"W","x1":16,"h1":0,"x2":16,"h2":0.328},{"p":"W","x1":17,"h1":0,"x2":17,"h2":0.328},{"p":"W","x1":16,"h1":0.328,"x2":17,"h2":0.328},{"p":"W","x1":16.5,"h1":0.328,"x2":16.5,"h2":0.378},
{"p":"W","x1":14.5,"h1":0.378,"x2":16.5,"h2":0.378},{"p":"W","x1":15.5,"h1":0.378,"x2":15.5,"h2":0.528},
{"p":"W","x1":12.5,"h1":0.528,"x2":15.5,"h2":0.528},{"p":"W","x1":13.85,"h1":0.528,"x2":13.85,"h2":0.943},
{"p":"W","x1":9.5,"h1":0.943,"x2":13.85,"h2":0.943},{"p":"W","x1":11.75,"h1":0.943,"x2":11.75,"h2":1},
{"p":"W","x1":2.5,"h1":1,"x2":11.75,"h2":1}
],
"clus":[
{"p":"E","k":"3","x":-0.11,"h":0.498},{"p":"E","k":"2","x":4.0,"h":0.498},{"p":"E","k":"4","x":8.13,"h":0.498},{"p":"E","k":"5","x":11.88,"h":0.498},{"p":"E","k":"1","x":15.43,"h":0.498},
{"p":"W","k":"5","x":0.06,"h":0.509},{"p":"W","k":"4","x":4.79,"h":0.509},{"p":"W","k":"2","x":9.98,"h":0.509},{"p":"W","k":"3","x":12.03,"h":0.509},{"p":"W","k":"1","x":16.05,"h":0.509}
],
"notes":[
{"p":"E","k":"title","t":"East"},{"p":"E","k":"cl","t":"Cluster"},{"p":"E","k":"hr","t":"HR"},
{"p":"W","k":"title","t":"West"},{"p":"W","k":"cl","t":"Cluster"},{"p":"W","k":"hr","t":"HR"}
]
},
"layer":[
{
 "layer":[
  {
   "layer":[
    {"data":{"name":"cells"},"transform":[{"filter":"datum.p == 'E'"}],
     "mark":{"type":"square","size":231,"stroke":"#a2a2a2","strokeWidth":1,"opacity":1},
     "encoding":{
      "x":{"field":"c","type":"quantitative","axis":null,"scale":{"domain":[-1,0,1,2,5,6,10,11,13,14,17],"range":[19.4,41.4,57.55,80.38,128.83,151.66,216.26,239.09,271.39,294.22,342.67],"zero":false,"nice":false}},
      "y":{"field":"r","type":"quantitative","axis":null,"scale":{"domain":[-1,0,1,2,5,6,10,11,13,14,17],"range":[153,174.8,190.95,213.8,262.25,285.1,349.7,372.55,404.85,427.7,476.15],"zero":false,"nice":false}},
      "fill":{"field":"v","type":"quantitative","scale":{"type":"threshold","domain":[-0.8,-0.6,-0.4,-0.2,0,0.2,0.4,0.6,0.8],"range":["#05305F","#0863A9","#0694C8","#76C5E1","#FFFFFF","#FFFFFF","#FCA183","#F05E49","#CD1C2A","#7A0021"]},
       "legend":{"type":"gradient","title":"Proportionality","orient":"none","legendX":439,"legendY":492,"direction":"vertical","gradientLength":247,"gradientThickness":21,"values":[-1.2,-1,-0.8,-0.6,-0.4,-0.2,0,0.2,0.4,0.6,0.8,1],"format":"~g","titleFontSize":15.6,"titleFontWeight":"bold","titleColor":"black","labelFontSize":16,"labelColor":"black","titlePadding":6,"labelOffset":5,"gradientStrokeWidth":0}}
     }},
    {"data":{"name":"sp"},"transform":[{"filter":"datum.p == 'E'"}],
     "mark":{"type":"square","size":231,"stroke":"#a2a2a2","strokeWidth":1,"opacity":1},
     "encoding":{
      "x":{"datum":-1},
      "y":{"field":"i","type":"quantitative"},
      "color":{"field":"hr","type":"nominal","scale":{"domain":[1.2,1.1,1,0.9,0.8],"range":["#B95C00","#E6C27C","#F2F2F2","#46CEC0","#008A6F"]},
       "legend":{"title":"HR","orient":"none","legendX":539,"legendY":565,"symbolType":"square","symbolSize":370,"symbolOpacity":1,"symbolStrokeWidth":1,"symbolStrokeColor":"#dddddd","titleFontSize":16,"titleFontWeight":"bold","titleColor":"black","labelFontSize":16,"labelColor":"black","rowPadding":0,"clipHeight":19.3,"labelOffset":8,"titlePadding":5,
        "encode":{"symbols":{"update":{"stroke":{"signal":"datum.value == 1 ? '#444444' : '#dddddd'"},"strokeDash":{"signal":"datum.value == 1 ? [2,2] : [1,0]"}}}}}}
     }},
    {"data":{"name":"sp"},"transform":[{"filter":"datum.p == 'E'"}],
     "mark":{"type":"square","size":231,"stroke":"#a2a2a2","strokeWidth":1,"opacity":1},
     "encoding":{
      "x":{"field":"i","type":"quantitative"},
      "y":{"datum":-1},
      "color":{"field":"cl","type":"nominal","scale":{"domain":[1,2,3,4,5],"range":["#0A75B6","#009B1A","#FF1414","#FF7F00","#7A359A"]},"legend":null}
     }},
    {"data":{"name":"sp"},"transform":[{"filter":"datum.p == 'E'"}],
     "mark":{"type":"text","align":"left","baseline":"middle","dx":5.5,"dy":-1.5,"fontSize":17.3,"fontStyle":"italic","font":"DejaVu Sans"},
     "encoding":{
      "x":{"datum":17.5},
      "y":{"field":"i","type":"quantitative"},
      "text":{"field":"name"},
      "color":{"field":"cl","type":"nominal","scale":{"domain":[1,2,3,4,5],"range":["#0A75B6","#009B1A","#FF1414","#FF7F00","#7A359A"]},"legend":null}
     }},
    {"data":{"name":"sp"},"transform":[{"filter":"datum.p == 'E'"}],
     "mark":{"type":"text","align":"right","baseline":"middle","angle":270,"dx":-5.5,"dy":-1.8,"fontSize":17.3,"fontStyle":"italic","font":"DejaVu Sans","color":"black"},
     "encoding":{
      "x":{"field":"i","type":"quantitative"},
      "y":{"datum":17.5},
      "text":{"field":"name"}
     }},
    {"data":{"name":"notes"},"transform":[{"filter":"datum.p == 'E' && datum.k == 'hr'"}],
     "mark":{"type":"text","align":"right","baseline":"middle","angle":270,"dx":-6.5,"dy":1.5,"fontSize":17.3,"fontWeight":"bold","font":"DejaVu Sans","color":"black"},
     "encoding":{
      "x":{"datum":-1},
      "y":{"datum":17.5},
      "text":{"field":"t"}
     }}
   ],
   "resolve":{"scale":{"color":"independent"}}
  },
  {
   "layer":[
    {"data":{"name":"dend"},"transform":[{"filter":"datum.p == 'E'"}],
     "mark":{"type":"rule","color":"#1a1a1a","strokeWidth":1.4},
     "encoding":{
      "x":{"field":"x1","type":"quantitative","axis":null,"scale":{"domain":[-1,0,1,2,5,6,10,11,13,14,17],"range":[19.4,41.4,57.55,80.38,128.83,151.66,216.26,239.09,271.39,294.22,342.67],"zero":false,"nice":false}},
      "x2":{"field":"x2"},
      "y":{"field":"h1","type":"quantitative","axis":null,"scale":{"domain":[0,1],"range":[141.7,53.3],"zero":false,"nice":false}},
      "y2":{"field":"h2"}
     }},
    {"data":{"name":"clus"},"transform":[{"filter":"datum.p == 'E'"}],
     "mark":{"type":"text","align":"center","baseline":"alphabetic","fontSize":17.3,"font":"DejaVu Sans","color":"black"},
     "encoding":{"x":{"field":"x","type":"quantitative"},"y":{"field":"h","type":"quantitative"},"text":{"field":"k"}}},
    {"data":{"name":"notes"},"transform":[{"filter":"datum.p == 'E' && datum.k == 'cl'"}],
     "mark":{"type":"text","align":"left","baseline":"alphabetic","fontSize":17,"fontWeight":"bold","font":"DejaVu Sans","color":"black"},
     "encoding":{"x":{"datum":17.87},"y":{"datum":0.491},"text":{"field":"t"}}},
    {"data":{"name":"notes"},"transform":[{"filter":"datum.p == 'E' && datum.k == 'title'"}],
     "mark":{"type":"text","align":"center","baseline":"alphabetic","fontSize":32.5,"font":"Liberation Sans","color":"black"},
     "encoding":{"x":{"datum":16.06},"y":{"datum":1.17},"text":{"field":"t"}}}
   ]
  }
 ],
 "resolve":{"scale":{"y":"independent","color":"independent"}}
},
{
 "layer":[
  {
   "layer":[
    {"data":{"name":"cells"},"transform":[{"filter":"datum.p == 'W'"}],
     "mark":{"type":"square","size":231,"stroke":"#a2a2a2","strokeWidth":1,"opacity":1},
     "encoding":{
      "x":{"field":"c","type":"quantitative","axis":null,"scale":{"domain":[-1,0,2,3,7,8,11,12,13,14,17],"range":[662.7,684.1,716.4,739.4,804.0,827.0,875.45,898.45,914.6,937.6,986.05],"zero":false,"nice":false}},
      "y":{"field":"r","type":"quantitative","axis":null,"scale":{"domain":[-1,0,2,3,7,8,11,12,13,14,17],"range":[153,174.8,207.1,229.9,294.5,317.35,365.8,388.65,404.8,427.65,476.1],"zero":false,"nice":false}},
      "fill":{"field":"v","type":"quantitative","scale":{"type":"threshold","domain":[-0.8,-0.6,-0.4,-0.2,0,0.2,0.4,0.6,0.8],"range":["#05305F","#0863A9","#0694C8","#76C5E1","#FFFFFF","#FFFFFF","#FCA183","#F05E49","#CD1C2A","#7A0021"]},"legend":null}
     }},
    {"data":{"name":"sp"},"transform":[{"filter":"datum.p == 'W'"}],
     "mark":{"type":"square","size":231,"stroke":"#a2a2a2","strokeWidth":1,"opacity":1},
     "encoding":{
      "x":{"datum":-1},
      "y":{"field":"i","type":"quantitative"},
      "color":{"field":"hr","type":"nominal","scale":{"domain":[1.2,1.1,1,0.9,0.8],"range":["#B95C00","#E6C27C","#F2F2F2","#46CEC0","#008A6F"]},"legend":null}
     }},
    {"data":{"name":"sp"},"transform":[{"filter":"datum.p == 'W'"}],
     "mark":{"type":"square","size":231,"stroke":"#a2a2a2","strokeWidth":1,"opacity":1},
     "encoding":{
      "x":{"field":"i","type":"quantitative"},
      "y":{"datum":-1},
      "color":{"field":"cl","type":"nominal","scale":{"domain":[1,2,3,4,5],"range":["#0A75B6","#009B1A","#FF1414","#FF7F00","#7A359A"]},"legend":null}
     }},
    {"data":{"name":"sp"},"transform":[{"filter":"datum.p == 'W'"}],
     "mark":{"type":"text","align":"left","baseline":"middle","dx":5.5,"dy":-1.5,"fontSize":17.3,"fontStyle":"italic","font":"DejaVu Sans"},
     "encoding":{
      "x":{"datum":17.5},
      "y":{"field":"i","type":"quantitative"},
      "text":{"field":"name"},
      "color":{"field":"cl","type":"nominal","scale":{"domain":[1,2,3,4,5],"range":["#0A75B6","#009B1A","#FF1414","#FF7F00","#7A359A"]},"legend":null}
     }},
    {"data":{"name":"sp"},"transform":[{"filter":"datum.p == 'W'"}],
     "mark":{"type":"text","align":"right","baseline":"middle","angle":270,"dx":-5.5,"dy":-1.8,"fontSize":17.3,"fontStyle":"italic","font":"DejaVu Sans","color":"black"},
     "encoding":{
      "x":{"field":"i","type":"quantitative"},
      "y":{"datum":17.5},
      "text":{"field":"name"}
     }},
    {"data":{"name":"notes"},"transform":[{"filter":"datum.p == 'W' && datum.k == 'hr'"}],
     "mark":{"type":"text","align":"right","baseline":"middle","angle":270,"dx":-6.5,"dy":1.5,"fontSize":17.3,"fontWeight":"bold","font":"DejaVu Sans","color":"black"},
     "encoding":{
      "x":{"datum":-1},
      "y":{"datum":17.5},
      "text":{"field":"t"}
     }}
   ],
   "resolve":{"scale":{"color":"independent"}}
  },
  {
   "layer":[
    {"data":{"name":"dend"},"transform":[{"filter":"datum.p == 'W'"}],
     "mark":{"type":"rule","color":"#1a1a1a","strokeWidth":1.4},
     "encoding":{
      "x":{"field":"x1","type":"quantitative","axis":null,"scale":{"domain":[-1,0,2,3,7,8,11,12,13,14,17],"range":[662.7,684.1,716.4,739.4,804.0,827.0,875.45,898.45,914.6,937.6,986.05],"zero":false,"nice":false}},
      "x2":{"field":"x2"},
      "y":{"field":"h1","type":"quantitative","axis":null,"scale":{"domain":[0,1],"range":[141.7,53.3],"zero":false,"nice":false}},
      "y2":{"field":"h2"}
     }},
    {"data":{"name":"clus"},"transform":[{"filter":"datum.p == 'W'"}],
     "mark":{"type":"text","align":"center","baseline":"alphabetic","fontSize":17.3,"font":"DejaVu Sans","color":"black"},
     "encoding":{"x":{"field":"x","type":"quantitative"},"y":{"field":"h","type":"quantitative"},"text":{"field":"k"}}},
    {"data":{"name":"notes"},"transform":[{"filter":"datum.p == 'W' && datum.k == 'cl'"}],
     "mark":{"type":"text","align":"left","baseline":"alphabetic","fontSize":17,"fontWeight":"bold","font":"DejaVu Sans","color":"black"},
     "encoding":{"x":{"datum":17.82},"y":{"datum":0.528},"text":{"field":"t"}}},
    {"data":{"name":"notes"},"transform":[{"filter":"datum.p == 'W' && datum.k == 'title'"}],
     "mark":{"type":"text","align":"center","baseline":"alphabetic","fontSize":32.5,"font":"Liberation Sans","color":"black"},
     "encoding":{"x":{"datum":16.16},"y":{"datum":1.17},"text":{"field":"t"}}}
   ]
  }
 ],
 "resolve":{"scale":{"y":"independent","color":"independent"}}
}
],
"resolve":{"scale":{"x":"independent","y":"independent","fill":"independent","color":"independent"}}
}
